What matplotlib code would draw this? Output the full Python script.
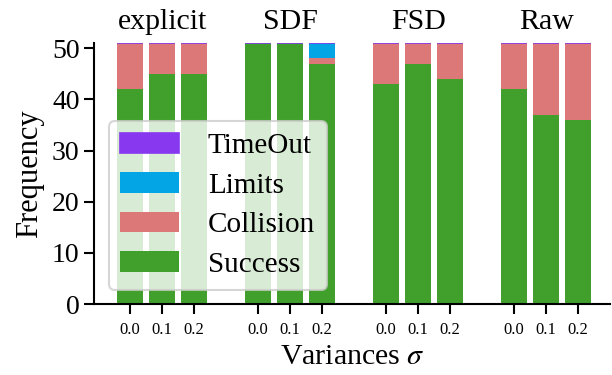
import numpy as np
import matplotlib
matplotlib.use("Agg")
import matplotlib.pyplot as plt

plt.rcParams['font.family'] = ['Liberation Serif', 'DejaVu Serif']
plt.rcParams['mathtext.fontset'] = 'stix'

methods = ['explicit', 'SDF', 'FSD', 'Raw']
variances = ['0.0', '0.1', '0.2']

# counts per method, for variance 0.0 / 0.1 / 0.2
success = [42, 45, 45, 51, 51, 47, 43, 47, 44, 42, 37, 36]
collision = [9, 6, 6, 0, 0, 1, 8, 4, 7, 9, 14, 15]
limits = [0, 0, 0, 0, 0, 3, 0, 0, 0, 0, 0, 0]
timeout = [0, 0, 0, 0, 0, 0, 0, 0, 0, 0, 0, 0]

colors = {'Success': '#40a02b', 'Collision': '#dd7878',
          'Limits': '#04a5e5', 'TimeOut': '#8839ef'}

x = np.array([g * 4 + i for g in range(len(methods)) for i in range(len(variances))])
success = np.array(success)
collision = np.array(collision)
limits = np.array(limits)
timeout = np.array(timeout)

fig = plt.figure(figsize=(6.12, 3.75), dpi=100)
ax = fig.add_axes([0.154, 0.189, 0.843, 0.696])

w = 0.8
ax.bar(x, success, w, color=colors['Success'], label='Success')
ax.bar(x, collision, w, bottom=success, color=colors['Collision'], label='Collision')
ax.bar(x, limits, w, bottom=success + collision, color=colors['Limits'], label='Limits')
ax.bar(x, timeout, w, bottom=success + collision + limits, color=colors['TimeOut'],
       edgecolor=colors['TimeOut'], linewidth=1.2, label='TimeOut')

ax.set_xlim(-1.12, 15.0)
ax.set_ylim(0, 51)
ax.set_yticks([0, 10, 20, 30, 40, 50])
ax.set_xticks(x)
ax.set_xticklabels(variances * len(methods), fontsize=12)
ax.tick_params(axis='x', length=7, width=1.5, pad=6)
ax.tick_params(axis='y', length=7, width=1.5, labelsize=20)
for s in ['top', 'right']:
    ax.spines[s].set_visible(False)
for s in ['left', 'bottom']:
    ax.spines[s].set_linewidth(1.5)

for g, name in enumerate(methods):
    ax.text(g * 4 + 1, 1.03, name, transform=ax.get_xaxis_transform(),
            ha='center', va='bottom', fontsize=21.5)

ax.set_xlabel(r'Variances $\sigma$', fontsize=21.5, labelpad=4)
ax.set_ylabel('Frequency', fontsize=22, labelpad=6)

h, l = ax.get_legend_handles_labels()
leg = ax.legend(h[::-1], l[::-1], loc='lower left', fontsize=21, handlelength=2.0,
                handleheight=0.7, framealpha=0.8, borderpad=0.4, labelspacing=0.45,
                handletextpad=1.0)
leg.get_frame().set_linewidth(1.5)

fig.savefig('out.png', dpi=100)
